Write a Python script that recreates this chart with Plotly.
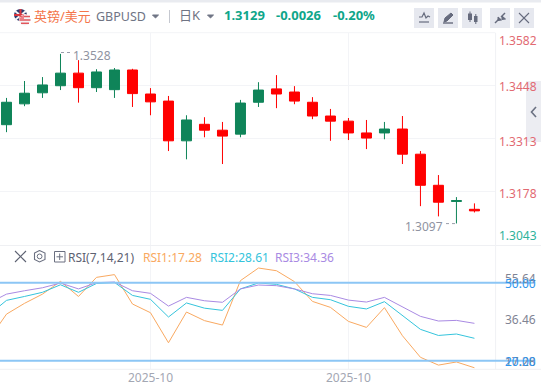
import plotly.graph_objects as go

W, H = 541, 388
FONT = "Noto Sans, Noto Sans CJK SC, sans-serif"

# ---- data ----
index = list(range(27))
opens = [1.3348, 1.3401, 1.3429, 1.3447, 1.3479, 1.3442, 1.3437, 1.3487, 1.3426, 1.3408, 1.3307, 1.3349, 1.3334,
         1.3324, 1.3405, 1.3439, 1.3431, 1.3405, 1.3370, 1.3357, 1.3327, 1.3327, 1.3337, 1.3273, 1.3194, 1.3153, 1.3133]
highs = [1.3416, 1.3459, 1.3469, 1.3528, 1.3512, 1.3489, 1.3492, 1.3490, 1.3441, 1.3421, 1.3372, 1.3367, 1.3355,
         1.3411, 1.3456, 1.3474, 1.3446, 1.3418, 1.3388, 1.3365, 1.3360, 1.3355, 1.3370, 1.3281, 1.3220, 1.3164, 1.3148]
lows = [1.3329, 1.3395, 1.3416, 1.3436, 1.3404, 1.3431, 1.3416, 1.3393, 1.3372, 1.3281, 1.3260, 1.3316, 1.3248,
        1.3316, 1.3393, 1.3390, 1.3400, 1.3362, 1.3307, 1.3309, 1.3286, 1.3311, 1.3248, 1.3141, 1.3115, 1.3097, 1.3125]
closes = [1.3405, 1.3428, 1.3449, 1.3479, 1.3442, 1.3482, 1.3487, 1.3427, 1.3406, 1.3307, 1.3360, 1.3334, 1.3319,
          1.3403, 1.3436, 1.3426, 1.3408, 1.3370, 1.3357, 1.3327, 1.3314, 1.3337, 1.3273, 1.3194, 1.3151, 1.3155, 1.3129]

rsi_index = list(range(-1, 27))
rsi1 = [28.0, 37.9, 42.05, 45.6, 50.5, 44.7, 52.05, 53.1, 41.8, 38.45, 26.9, 38.7, 35.4, 33.7, 50.8, 55.64, 54.6,
        50.4, 42.8, 40.5, 35.1, 32.8, 40.4, 29.6, 21.3, 18.3, 19.5, 17.28]
rsi2 = [37.5, 43.2, 44.7, 46.3, 49.2, 46.3, 49.7, 50.1, 45.1, 43.6, 36.8, 42.2, 40.2, 39.35, 47.6, 49.9, 49.35,
        47.6, 44.35, 43.45, 40.9, 39.9, 42.7, 37.3, 32.05, 29.7, 30.25, 28.61]
rsi3 = [42.05, 45.6, 46.9, 48.05, 49.85, 47.6, 50.0, 50.25, 46.9, 45.9, 41.0, 44.35, 43.05, 42.45, 47.6, 49.1, 48.85,
        47.6, 45.75, 45.1, 43.3, 42.55, 44.35, 40.75, 37.05, 35.25, 35.5, 34.36]
rsi_levels = [50, 20]

price_grid = [1.3448, 1.3313, 1.3178, 1.3043]
month_ticks = [8, 19]
month_labels = ["2025-10", "2025-10"]

GREEN, RED = "#0f8459", "#ff0000"
GRID = "#f3f4f7"
GREY = "#7f8494"

px = lambda v: v / W
py = lambda v: 1 - v / H

fig = go.Figure()
fig.add_trace(go.Candlestick(
    x=index, open=opens, high=highs, low=lows, close=closes, xaxis="x", yaxis="y",
    increasing=dict(line=dict(color=GREEN, width=1), fillcolor=GREEN),
    decreasing=dict(line=dict(color=RED, width=1), fillcolor=RED),
    whiskerwidth=0, showlegend=False, hoverinfo="skip"))
for vals, col in ((rsi1, "#f9a961"), (rsi2, "#35c4dc"), (rsi3, "#a98ae3")):
    fig.add_trace(go.Scatter(x=rsi_index, y=vals, mode="lines", xaxis="x2", yaxis="y2",
                             line=dict(color=col, width=1), showlegend=False, hoverinfo="skip"))

xr = [-0.361, 27.17]
fig.update_layout(
    width=W, height=H, margin=dict(l=0, r=0, t=0, b=0), autosize=False,
    paper_bgcolor="white", plot_bgcolor="white", boxgap=0.255, boxgroupgap=0.255,
    font=dict(family=FONT, color=GREY, size=12),
    xaxis=dict(domain=[0, px(495.5)], range=xr, anchor="y", tickvals=month_ticks, ticktext=["", ""],
               showgrid=True, gridcolor=GRID, gridwidth=1, zeroline=False, showline=False, ticks="",
               rangeslider=dict(visible=False)),
    yaxis=dict(domain=[py(245.5), py(33)], range=[1.3041, 1.3581], anchor="x", tickvals=price_grid,
               showticklabels=False, showgrid=True, gridcolor=GRID, gridwidth=1, zeroline=False, ticks=""),
    xaxis2=dict(domain=[0, px(495.5)], range=xr, anchor="y2", tickvals=month_ticks, ticktext=month_labels,
                showgrid=True, gridcolor=GRID, gridwidth=1, zeroline=False, showline=False, ticks="",
                tickfont=dict(size=12, color="#a3a7b3", family=FONT)),
    yaxis2=dict(domain=[py(369), py(245.5)], range=[16.8, 64.3], anchor="x2", tickvals=[],
                showticklabels=False, showgrid=False, zeroline=False, ticks=""),
)

shapes = []
def rect(x0, y0, x1, y1, fill, line=None, lw=0):
    shapes.append(dict(type="rect", xref="paper", yref="paper", x0=px(x0), x1=px(x1), y0=py(y0), y1=py(y1),
                       fillcolor=fill, line=dict(color=line or fill, width=lw), layer="above"))
def seg(x0, y0, x1, y1, col, lw=1.0):
    shapes.append(dict(type="line", xref="paper", yref="paper", x0=px(x0), x1=px(x1), y0=py(y0), y1=py(y1),
                       line=dict(color=col, width=lw), layer="above"))
def circle(x0, y0, x1, y1, fill):
    shapes.append(dict(type="circle", xref="paper", yref="paper", x0=px(x0), x1=px(x1), y0=py(y0), y1=py(y1),
                       fillcolor=fill, line=dict(width=0), layer="above"))
def poly(points, fill=None, col=None, lw=1.0):
    path = "M " + " L ".join(f"{px(a):.5f},{py(b):.5f}" for a, b in points)
    if fill:
        path += " Z"
    shapes.append(dict(type="path", xref="paper", yref="paper", path=path, fillcolor=fill or "rgba(0,0,0,0)",
                       line=dict(color=col or fill, width=lw), layer="above"))

# page and panel frame
rect(0, 0, W, 2.5, "#e9ebf0")
seg(0, 32.7, 495.5, 32.7, GRID)
seg(0, 245.5, W, 245.5, "#eff0f3")
seg(0, 369.3, W, 369.3, "#eff0f3")
seg(495.6, 33, 495.6, 369, "#f0f1f4")

# RSI levels
for lv in rsi_levels:
    shapes.append(dict(type="line", xref="paper", yref="y2", x0=0, x1=px(534), y0=lv, y1=lv,
                       line=dict(color="#8cc6f5", width=2), layer="above"))

# side tab
rect(526, 81, W, 142, "#ecedf2")
poly([(536, 107), (531.5, 112), (536, 117)], col="#6b7182", lw=1.6)

# flags
circle(14, 9, 27, 21, "#2d3a6e")
seg(15, 11, 26, 20, "#f4f4f6", 2)
seg(26, 11, 15, 20, "#f4f4f6", 2)
seg(20.5, 9, 20.5, 21, "#d9363e", 2)
seg(14, 15, 27, 15, "#d9363e", 2)
circle(19, 14, 30.5, 25.5, "#f4f4f6")
seg(20, 16.5, 30, 16.5, "#e2565c", 1.5)
seg(19.5, 20, 30.5, 20, "#e2565c", 1.5)
seg(21, 23.3, 29, 23.3, "#e2565c", 1.5)
shapes.append(dict(type="path", xref="paper", yref="paper", layer="above", fillcolor="#ee8088", line=dict(width=0),
                   path=f"M {px(19)},{py(19)} L {px(24)},{py(19)} L {px(24)},{py(14.2)} Z"))

# dropdown carets
for cx in (155.5, 210.5):
    poly([(cx - 3, 15), (cx + 3, 15), (cx, 18)], fill="#6f7484")
seg(169.5, 10, 169.5, 23, "#c5c8d0")

# toolbar buttons
for x0 in (414, 438, 462, 490, 514):
    rect(x0, 8, x0 + 20, 28, "#e6e8ef", "#e6e8ef", 0)
ICON = "#666b7d"
poly([(419, 17), (422, 17), (424, 13), (426, 18), (428, 16), (430, 17)], col=ICON, lw=1.2)
seg(419, 22, 429, 22, ICON, 1.2)
poly([(444, 22), (445, 18), (451, 13), (453, 15), (447, 21)], fill=ICON)
seg(443, 23, 453, 23, ICON, 1.4)
rect(468, 13.5, 472, 20, ICON)
seg(470, 11.5, 470, 22, ICON, 1)
rect(474, 16, 477.5, 22, ICON)
seg(475.8, 14, 475.8, 24, ICON, 1)
seg(495, 23, 499, 19, ICON, 1.5)
seg(501, 17, 505, 13, ICON, 1.5)
poly([(498, 17), (501.5, 20), (498, 20.5)], fill=ICON)
poly([(502, 16), (502, 19.5), (505.5, 19)], fill=ICON)
seg(519, 13, 529, 23, ICON, 1.1)
seg(529, 13, 519, 23, ICON, 1.1)

# RSI toolbar
seg(15, 251, 26, 262, "#5d6272", 1.1)
seg(26, 251, 15, 262, "#5d6272", 1.1)
poly([(39.5, 250.5), (45, 253), (45, 259.5), (39.5, 262), (34.5, 259.5), (34.5, 253), (39.5, 250.5)], col="#6a6f80", lw=1.1)
shapes.append(dict(type="circle", xref="paper", yref="paper", x0=px(37.2), x1=px(42), y0=py(254), y1=py(258.8),
                   line=dict(color="#6a6f80", width=1), layer="above"))
rect(54.5, 251.5, 65, 262, "rgba(0,0,0,0)", "#6a6f80", 1)
seg(59.7, 253.5, 59.7, 260, "#6a6f80", 1)
seg(56.5, 256.8, 63, 256.8, "#6a6f80", 1)

# max / min dotted leaders
seg(61, 52.5, 71, 52.5, "#9a9eac", 1)
shapes[-1]["line"]["dash"] = "dot"
seg(446, 223.6, 456, 223.6, "#9a9eac", 1)
shapes[-1]["line"]["dash"] = "dot"

fig.update_layout(shapes=shapes)

def txt(x, y, s, color, size, anchor="left", bold=False):
    fig.add_annotation(xref="paper", yref="paper", x=px(x), y=py(y), text=f"<b>{s}</b>" if bold else s, showarrow=False,
                       xanchor=anchor, yanchor="middle", align=anchor, borderpad=0, borderwidth=0,
                       font=dict(family=FONT, color=color, size=size))

txt(33.5, 16, "英镑/美元", "#f4764b", 13)
txt(96, 17, "GBPUSD", "#6f7484", 12.5)
txt(179, 15.5, "日K", "#6f7484", 13)
txt(224, 15.5, "1.3129", "#0fa68a", 13, bold=True)
txt(276, 15.5, "-0.0026", "#0fa68a", 13, bold=True)
txt(333, 15.5, "-0.20%", "#0fa68a", 13, bold=True)

txt(72.5, 55.5, "1.3528", "#8f93a1", 12)
txt(405, 226.5, "1.3097", "#8f93a1", 12)

PR = "#e26a72"
for lab, y, c in (("1.3582", 40.5, PR), ("1.3448", 86.5, PR), ("1.3313", 141, PR), ("1.3178", 193.5, PR), ("1.3043", 235.5, "#2eb29b")):
    txt(537, y, lab, c, 12, "right")

txt(68, 257, "RSI(7,14,21)", "#5d6272", 12)
txt(142.5, 257, "RSI1:17.28", "#f9a961", 12)
txt(209.5, 257, "RSI2:28.61", "#35c4dc", 12)
txt(275, 257, "RSI3:34.36", "#a98ae3", 12)

txt(536, 278, "55.64", "#7f8494", 12, "right")
txt(536, 283.5, "50.00", "#2f96ee", 12, "right")
txt(536, 319.5, "36.46", "#7f8494", 12, "right")
txt(536, 361, "17.28", "#7f8494", 12, "right")
txt(536, 361, "20.00", "#2f96ee", 12, "right")

fig.write_html("out.html", config={"displayModeBar": False},
               post_script="document.body.style.margin='0';document.documentElement.style.overflow='hidden';")
